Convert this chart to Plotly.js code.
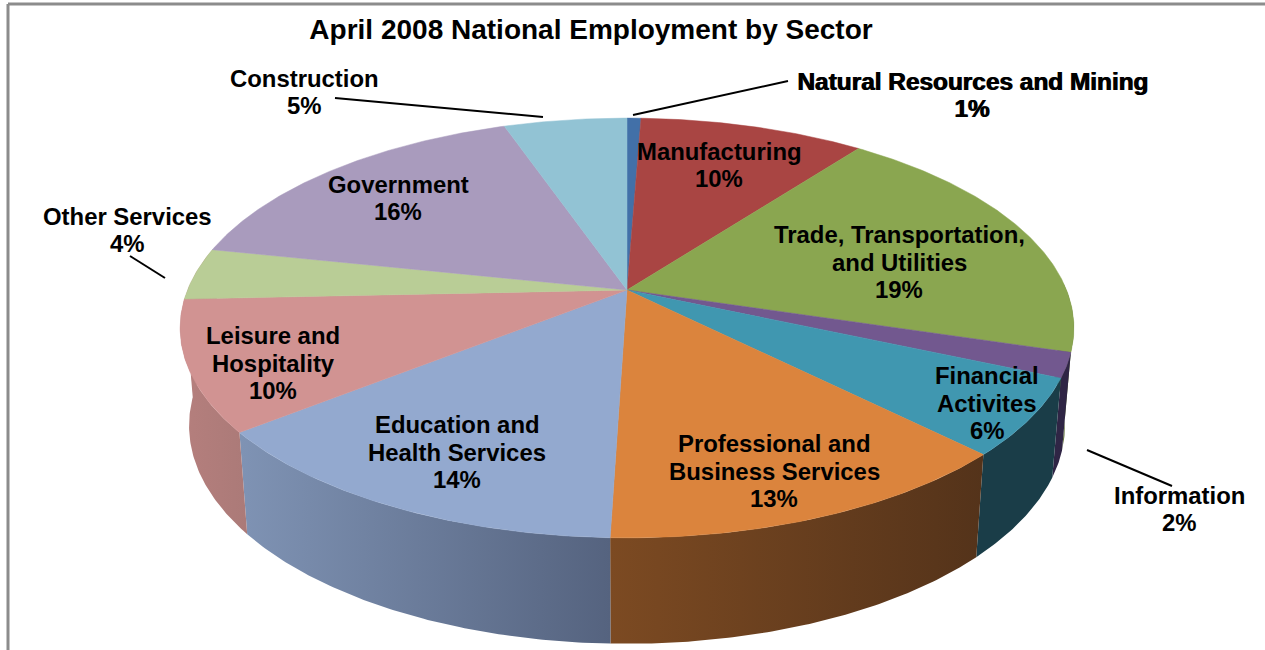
<!DOCTYPE html>
<html><head><meta charset="utf-8">
<script src="https://cdn.plot.ly/plotly-3.0.1.min.js"></script>
<style>html,body{margin:0;padding:0;background:#fff}#c{width:1265px;height:650px}</style>
</head><body><div id="c"></div>
<script>
// --- data ---
const sectors = ["Natural Resources and Mining","Manufacturing","Trade, Transportation,<br>and Utilities","Information","Financial<br>Activites","Professional and<br>Business Services","Education and<br>Health Services","Leisure and<br>Hospitality","Other Services","Government","Construction"];
const shares = [0.6,9.7,19.4,1.9,5.9,13.0,13.8,10.0,4.0,16.4,5.3];
const topColors = ["#4270a8","#a94543","#8aa650","#72588f","#4097b0","#db843d","#93a9cf","#d19392","#b9cd96","#a99bbd","#92c3d4"];
const wallLeft  = ["#2c4a70","#702d2c","#5c6e34","#2f2545","#1a3d48","#7c4a22","#7f93b4","#b57f7d","#b57f7d","#7a7090","#6a8e9a"];
const wallRight = ["#2c4a70","#702d2c","#5c6e34","#2f2545","#1a3d48","#54331a","#55637f","#ab7a78","#b57f7d","#7a7090","#6a8e9a"];
const labelX = [972,719,899,1179,987,774,457,273,127,398,304];
const labelY = [95,165,262,509,403,471,452,363,230,198,92];
const leaders = [[335,98,543,117],[633,115,788,81],[1087,450,1172,486],[130,256,165,278]];

// --- perspective disc projection onto pixel-scaled axes ---
const apex = {x:627,y:290}, A = 203, B = 439.5, k = 0.181, depth = {sx:0.98, sy:1.04, d:96};
function topRim(deg){const t=deg*Math.PI/180,u=Math.sin(t),v=-Math.cos(t),w=1-k*v;return [apex.x+B*u/w, apex.y+A*v/w];}
function bottomRim(deg){const p=topRim(deg);return [apex.x+(p[0]-apex.x)*depth.sx, apex.y+(p[1]-apex.y)*depth.sy+depth.d];}
function arc(fn,a,b){const o=[];const n=Math.max(2,Math.ceil(Math.abs(b-a)/0.5));for(let i=0;i<=n;i++)o.push(fn(a+(b-a)*i/n));return o;}

const total = shares.reduce((s,v)=>s+v,0);
const walls=[], faces=[];
let cum=0;
shares.forEach((v,i)=>{
  const a=cum/total*360, b=(cum+v)/total*360; cum+=v;
  const name=sectors[i].replace(/<br>/g,' ');
  const pct=Math.round(v/total*100)+'%';
  const pts=[[apex.x,apex.y],...arc(topRim,a,b),[apex.x,apex.y]];
  faces.push({type:'scatter',mode:'lines',x:pts.map(p=>p[0]),y:pts.map(p=>p[1]),fill:'toself',fillcolor:topColors[i],
    line:{width:0.5,color:topColors[i]},name:name,text:pct,hoverinfo:'name+text',showlegend:false});
  const wa=Math.max(a,88), wb=Math.min(b,282);
  if(wb>wa){
    const t=arc(topRim,wa,wb), r=arc(bottomRim,wb,wa), w=[...t,...r,t[0]];
    walls.push({type:'scatter',mode:'lines',x:w.map(p=>p[0]),y:w.map(p=>p[1]),fill:'toself',
      fillgradient:{type:'horizontal',colorscale:[[0,wallLeft[i]],[1,wallRight[i]]]},
      line:{width:0},hoverinfo:'skip',showlegend:false});
  }
});

const font={family:'"Liberation Sans",Arial,sans-serif',size:23.9,color:'#000'};
const lineGap=27.8;
const annotations=[];
sectors.forEach((s,i)=>{
  const lines=s.split('<br>').concat(Math.round(shares[i]/total*100)+'%');
  lines.forEach((ln,j)=>annotations.push({x:labelX[i],y:labelY[i]+(j-(lines.length-1)/2)*lineGap,xref:'x',yref:'y',showarrow:false,
    xanchor:'center',yanchor:'middle',align:'center',text:'<b>'+ln+'</b>',
    font:i===0?Object.assign({},font,{size:24.4,shadow:'1px 0 0 #000'}):font}));
});

const shapes=leaders.map(l=>({type:'line',xref:'x',yref:'y',x0:l[0],y0:l[1],x1:l[2],y1:l[3],line:{color:'#000',width:2}}));
shapes.push({type:'line',xref:'x',yref:'y',x0:8,y0:4,x1:8,y1:650,line:{color:'#8c8c8c',width:3}});
shapes.push({type:'line',xref:'x',yref:'y',x0:8,y0:4,x1:1265,y1:4,line:{color:'#8c8c8c',width:3}});

Plotly.newPlot('c',[...walls,...faces],{
  width:1265,height:650,margin:{l:0,r:0,t:0,b:0},paper_bgcolor:'#fff',plot_bgcolor:'#fff',showlegend:false,
  title:{text:'<b>April 2008 National Employment by Sector</b>',x:591/1265,xanchor:'center',y:1-29/650,yanchor:'middle',font:Object.assign({},font,{size:28})},
  xaxis:{range:[0,1265],visible:false,fixedrange:true},
  yaxis:{range:[650,0],visible:false,fixedrange:true},
  annotations:annotations,shapes:shapes
},{displayModeBar:false,staticPlot:true});
</script></body></html>
